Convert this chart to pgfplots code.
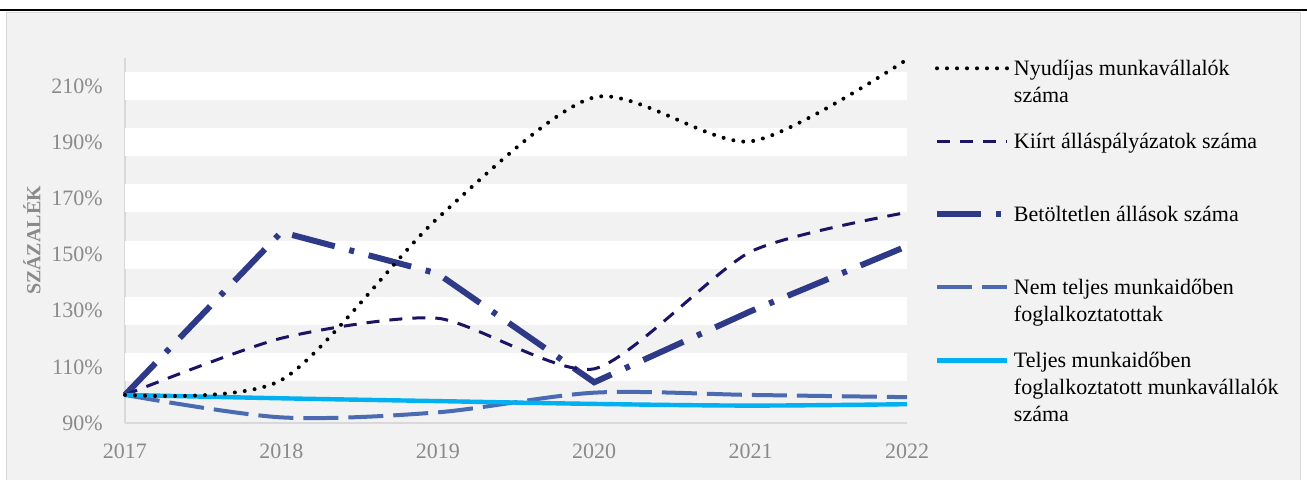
\documentclass[border=0pt]{standalone}
\usepackage{fontspec}
\setmainfont{Liberation Serif}
\usepackage{pgfplots}
\pgfplotsset{compat=1.18}

\definecolor{panel}{HTML}{F2F2F2}
\definecolor{panelrule}{HTML}{D9D9D9}
\definecolor{axgray}{HTML}{D9D9D9}
\definecolor{txtgray}{HTML}{8A8A8A}
\definecolor{navyA}{HTML}{1B1464}
\definecolor{navyB}{HTML}{2E3A87}
\definecolor{midblue}{HTML}{4A6AB2}
\definecolor{skyblue}{HTML}{00B0F0}

% series styles (Excel look)
\tikzset{
  nyu/.style={black, line width=2pt, line cap=round, dash pattern=on 0pt off 5pt},
  kiirt/.style={navyA, line width=1.5pt, dash pattern=on 6.5pt off 5pt},
  betolt/.style={navyB, line width=3pt, dash pattern=on 22pt off 7.5pt on 2.5pt off 7.5pt},
  nemt/.style={midblue, line width=2pt, dash pattern=on 17.5pt off 5pt},
  telj/.style={skyblue, line width=2.2pt},
}

\begin{document}
\begin{tikzpicture}
\path[use as bounding box] (0pt,0pt) rectangle (653.5pt,239.5pt);
\fill[panel, draw=panelrule, line width=0.5pt] (3pt,-2pt) rectangle (650pt,233.5pt);
\draw[black, line width=1pt] (0pt,234.5pt) -- (653.5pt,234.5pt);

\begin{axis}[
  at={(62.5pt,28pt)}, anchor=south west,
  scale only axis, width=391pt, height=182.5pt,
  xmin=2017, xmax=2022, ymin=90, ymax=220,
  xtick={2017,2018,2019,2020,2021,2022},
  ytick={90,110,130,150,170,190,210},
  yticklabel={\pgfmathprintnumber{\tick}\%},
  /pgf/number format/.cd, 1000 sep={}, assume math mode=true, /pgfplots/.cd,
  axis x line*=bottom, axis y line*=left,
  axis line style={axgray, line width=1pt, -},
  major tick length=0pt,
  tick label style={font=\fontsize{11}{13}\selectfont, text=txtgray, inner sep=0pt},
  xticklabel style={anchor=north, yshift=-10pt},
  yticklabel style={anchor=east, xshift=-11pt},
  ylabel={SZÁZALÉK},
  every axis y label/.style={at={(axis description cs:-0.119,0.5)}, rotate=90, anchor=center,
    font=\bfseries\fontsize{10}{12}\selectfont, text=txtgray},
  clip=false,
  % the invisible box fixes every legend row to the same height
  legend image code/.code={\path[draw=none, fill=none] (0pt,-22.5pt) rectangle (35pt,14pt);
    \draw[#1] (0pt,3.35pt) -- (35pt,3.35pt);},
  legend style={draw=none, fill=none, inner sep=0pt, outer sep=0pt,
    at={(1.0345,1.0301)}, anchor=north west, row sep=0pt, column sep=0pt,
    font=\fontsize{11}{13.5}\selectfont, cells={anchor=base west}},
]
% white bands
\fill[white] (axis cs:2017,105) rectangle (axis cs:2022,115);
\fill[white] (axis cs:2017,125) rectangle (axis cs:2022,135);
\fill[white] (axis cs:2017,145) rectangle (axis cs:2022,155);
\fill[white] (axis cs:2017,165) rectangle (axis cs:2022,175);
\fill[white] (axis cs:2017,185) rectangle (axis cs:2022,195);
\fill[white] (axis cs:2017,205) rectangle (axis cs:2022,215);

\addplot[betolt, forget plot] coordinates {
(2017,100)(2018,158)(2019,143.2)(2020,104.5)(2021,129.8)(2022,153)};
\addplot[kiirt, smooth, tension=0.4, forget plot] coordinates {
(2017,100)(2018,120.2)(2019,127.3)(2020,109.3)(2021,151)(2022,165)};
\addplot[nemt, smooth, forget plot] coordinates {
(2017,100)(2018,92)(2019,93.8)(2020,100.8)(2021,100)(2022,99.2)};
\addplot[telj, smooth, forget plot] coordinates {
(2017,100)(2018,98.8)(2019,97.8)(2020,96.8)(2021,96.2)(2022,96.7)};
\addplot[nyu, smooth, tension=0.45, forget plot] coordinates {
(2017,100)(2018,105.3)(2019,163)(2020,206)(2021,190.3)(2022,219.5)};

\addlegendimage{nyu}
\addlegendentry{\parbox[t]{150pt}{\strut Nyudíjas munkavállalók\\száma}}
\addlegendimage{kiirt}
\addlegendentry{\parbox[t]{150pt}{\strut Kiírt álláspályázatok száma}}
\addlegendimage{betolt}
\addlegendentry{\parbox[t]{150pt}{\strut Betöltetlen állások száma}}
\addlegendimage{nemt}
\addlegendentry{\parbox[t]{150pt}{\strut Nem teljes munkaidőben\\foglalkoztatottak}}
\addlegendimage{telj}
\addlegendentry{\parbox[t]{150pt}{\strut Teljes munkaidőben\\foglalkoztatott munkavállalók\\száma}}
\end{axis}
\end{tikzpicture}
\end{document}
